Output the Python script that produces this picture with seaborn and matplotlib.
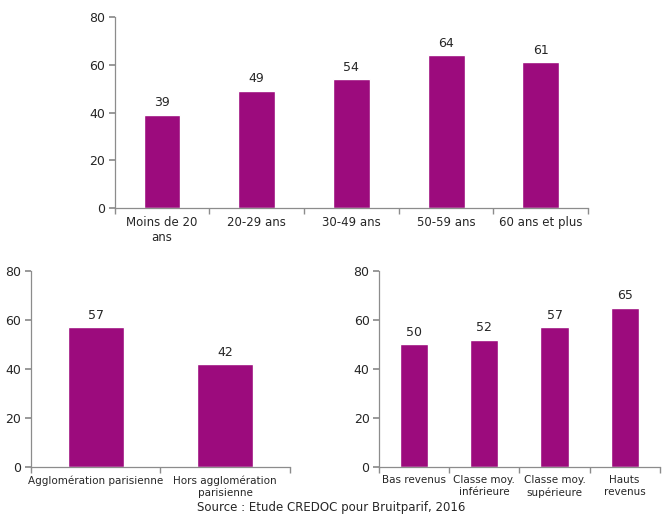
import numpy as np
import pandas as pd
import matplotlib
matplotlib.use("Agg")
import matplotlib.pyplot as plt
import seaborn as sns

# data
age_labels = ["Moins de 20\nans", "20-29 ans", "30-49 ans", "50-59 ans", "60 ans et plus"]
age_values = [39, 49, 54, 64, 61]
zone_labels = ["Agglomération parisienne", "Hors agglomération\nparisienne"]
zone_values = [57, 42]
revenu_labels = ["Bas revenus", "Classe moy.\ninférieure", "Classe moy.\nsupérieure", "Hauts\nrevenus"]
revenu_values = [50, 52, 57, 65]

bar_color = "#9C0B7D"
text_color = "#262626"
spine_color = "#8C8C8C"

sns.set_theme(style="white")
plt.rcParams["font.family"] = ["DejaVu Sans"]

fig = plt.figure(figsize=(6.63, 5.15), dpi=100)
ax_top = fig.add_axes([0.173, 0.596, 0.714, 0.371])
ax_bl = fig.add_axes([0.047, 0.093, 0.390, 0.381])
ax_br = fig.add_axes([0.572, 0.093, 0.423, 0.381])


def draw(ax, labels, values, width, fs_x):
    df = pd.DataFrame({"cat": labels, "val": values})
    sns.barplot(data=df, x="cat", y="val", color=bar_color, width=width,
                saturation=1, ax=ax)
    ax.set_ylim(0, 80)
    ax.set_xlim(-0.5, len(labels) - 0.5)
    ax.set_yticks([0, 20, 40, 60, 80])
    ax.set_xlabel("")
    ax.set_ylabel("")
    for s in ["top", "right"]:
        ax.spines[s].set_visible(False)
    for s in ["left", "bottom"]:
        ax.spines[s].set_color(spine_color)
        ax.spines[s].set_linewidth(0.9)
    ax.tick_params(axis="y", length=4, color=spine_color, labelsize=9,
                   labelcolor=text_color, left=True, pad=3)
    ax.tick_params(axis="x", length=0, labelsize=fs_x, labelcolor=text_color, pad=6)
    ax.set_xticks(np.arange(-0.5, len(labels), 1.0), minor=True)
    ax.tick_params(axis="x", which="minor", length=4, color=spine_color, bottom=True)
    for c in ax.containers:
        ax.bar_label(c, fmt="%d", padding=4, fontsize=9, color=text_color)


draw(ax_top, age_labels, age_values, 0.39, 8.5)
draw(ax_bl, zone_labels, zone_values, 0.43, 7.5)
draw(ax_br, revenu_labels, revenu_values, 0.40, 7.5)

fig.text(0.5, 0.001, "Source : Etude CREDOC pour Bruitparif, 2016",
         ha="center", va="bottom", fontsize=8.5, color=text_color)

fig.savefig("out.png", dpi=100)
